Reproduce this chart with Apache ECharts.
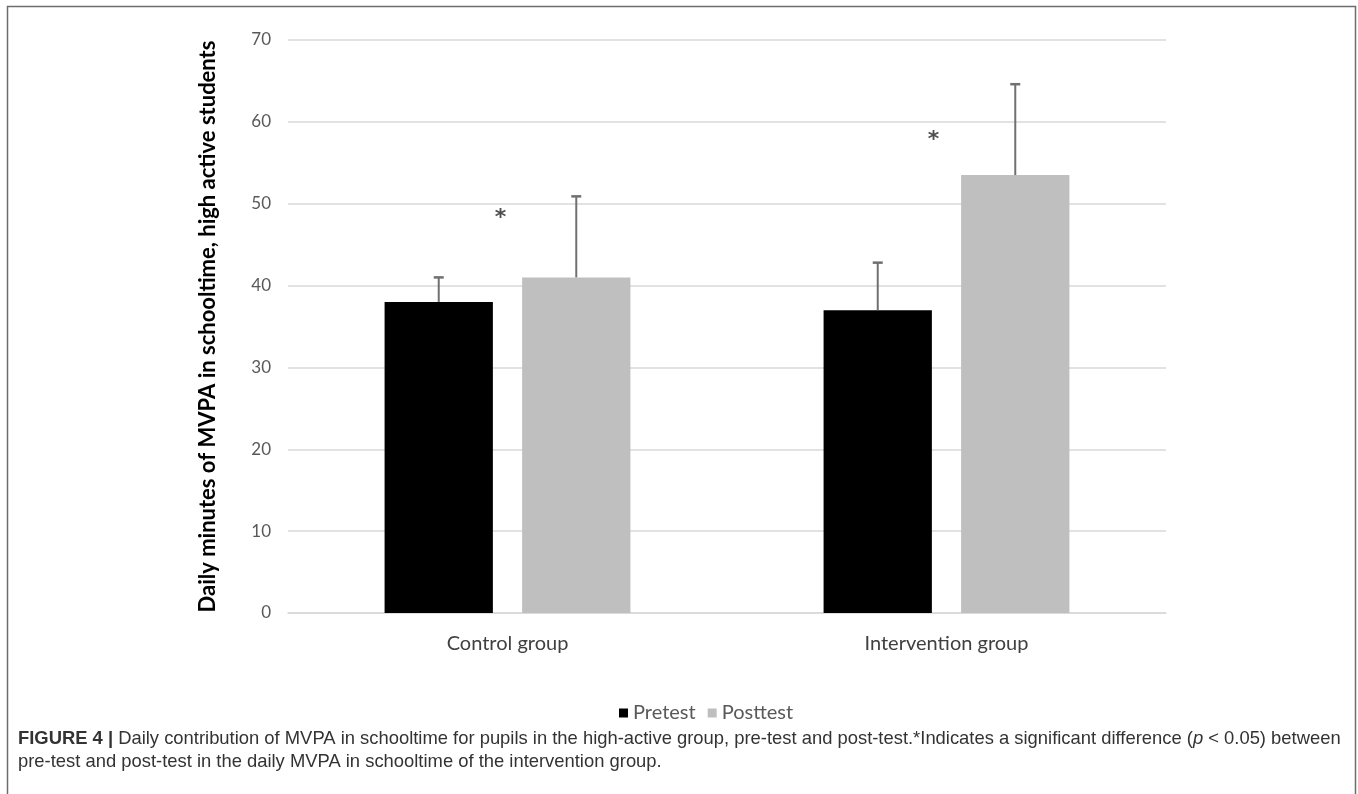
<!DOCTYPE html>
<html>
<head>
<meta charset="utf-8">
<script src="https://cdn.jsdelivr.net/npm/echarts@6/dist/echarts.min.js"></script>
<style>
html,body{margin:0;padding:0;background:#fff;}
#c{width:1358px;height:794px;}
</style>
</head>
<body>
<div id="c"></div>
<script>
const categories = ['Control group', 'Intervention group'];
const seriesNames = ['Pretest', 'Posttest'];
const pretest = [38, 37];
const posttest = [41, 53.5];
const pretestErr = [41, 42.8];
const posttestErr = [50.9, 64.6];
const asterisks = [48.7, 58.2];
const yTicks = { min: 0, max: 70, interval: 10 };
const yTitle = 'Daily minutes of MVPA in schooltime, high active students';

const BAR_GAP = 0.27, CAT_GAP = 0.44;
const FONT = 'Lato, "Open Sans", sans-serif';
const CAP_FONT = '"Liberation Sans", Arial, sans-serif';
const chart = echarts.init(document.getElementById('c'));

function errSeries(values, which) {
  return {
    type: 'custom',
    silent: true,
    z: 5,
    data: values.map((v, i) => [i, v]),
    renderItem: function (params, api) {
      const idx = api.value(0);
      const top = api.coord([idx, api.value(1)]);
      const band = api.size([1, 0])[0];
      const bw = band * (1 - CAT_GAP) / (2 + BAR_GAP);
      const off = bw * (1 + BAR_GAP) / 2 * (which === 0 ? -1 : 1);
      const base = api.coord([idx, (which === 0 ? pretest : posttest)[idx]]);
      const x = top[0] + off;
      return {
        type: 'group',
        children: [
          { type: 'line', shape: { x1: x, y1: base[1], x2: x, y2: top[1] }, style: { stroke: '#707070', lineWidth: 2 } },
          { type: 'line', shape: { x1: x - 5, y1: top[1], x2: x + 5, y2: top[1] }, style: { stroke: '#707070', lineWidth: 2.5 } }
        ]
      };
    }
  };
}

chart.setOption({
  animation: false,
  backgroundColor: '#fff',
  grid: { left: 288, right: 192, top: 40, bottom: 181 },
  legend: {
    data: seriesNames,
    bottom: 66,
    left: 614,
    itemWidth: 9, itemHeight: 9, itemGap: 12,
    icon: 'rect',
    textStyle: { fontFamily: FONT, fontSize: 20, color: '#595959' }
  },
  xAxis: {
    type: 'category',
    data: categories,
    axisLine: { lineStyle: { color: '#d9d9d9', width: 1.5 } },
    axisTick: { show: false },
    axisLabel: { fontFamily: FONT, fontSize: 20, color: '#404040', margin: 21 }
  },
  yAxis: {
    type: 'value',
    min: yTicks.min, max: yTicks.max, interval: yTicks.interval,
    name: yTitle,
    nameLocation: 'middle',
    nameGap: 69,
    nameTextStyle: { fontFamily: FONT, fontWeight: 'bold', fontSize: 22, color: '#000' },
    axisLine: { show: false },
    axisTick: { show: false },
    axisLabel: { fontFamily: FONT, fontSize: 17, color: '#595959', margin: 17 },
    splitLine: { lineStyle: { color: '#d9d9d9', width: 1.5 } }
  },
  series: [
    { name: seriesNames[0], type: 'bar', data: pretest, barGap: (BAR_GAP * 100) + '%', barCategoryGap: (CAT_GAP * 100) + '%', itemStyle: { color: '#000000' } },
    { name: seriesNames[1], type: 'bar', data: posttest, barGap: (BAR_GAP * 100) + '%', barCategoryGap: (CAT_GAP * 100) + '%', itemStyle: { color: '#bfbfbf' } },
    errSeries(pretestErr, 0),
    errSeries(posttestErr, 1),
    {
      type: 'scatter',
      symbolSize: 1,
      itemStyle: { color: 'rgba(0,0,0,0)' },
      data: [
        { value: [0, asterisks[0]], label: { offset: [-7, 4] } },
        { value: [1, asterisks[1]], label: { offset: [-13, 4] } }
      ],
      label: { show: true, position: 'inside', formatter: '*', fontSize: 22, fontWeight: 'bold', color: '#222', fontFamily: 'DejaVu Sans' },
      z: 6
    }
  ],
  graphic: [
    { type: 'rect', shape: { x: 7.5, y: 6.5, width: 1348, height: 800 }, style: { fill: null, stroke: '#6d6d6d', lineWidth: 1.5 }, silent: true },
    {
      type: 'text', left: 18, top: 727,
      style: {
        text: '{b|FIGURE 4 |} Daily contribution of MVPA in schooltime for pupils in the high-active group, pre-test and post-test.*Indicates a significant difference ({i|p} < 0.05) between\npre-test and post-test in the daily MVPA in schooltime of the intervention group.',
        fontFamily: CAP_FONT,
        fontSize: 18.4, lineHeight: 23, fill: '#333',
        rich: {
          b: { fontWeight: 'bold', fontFamily: CAP_FONT, fontSize: 18.4, fill: '#333' },
          i: { fontStyle: 'italic', fontFamily: CAP_FONT, fontSize: 18.4, fill: '#333' }
        }
      }
    }
  ]
});
</script>
</body>
</html>
